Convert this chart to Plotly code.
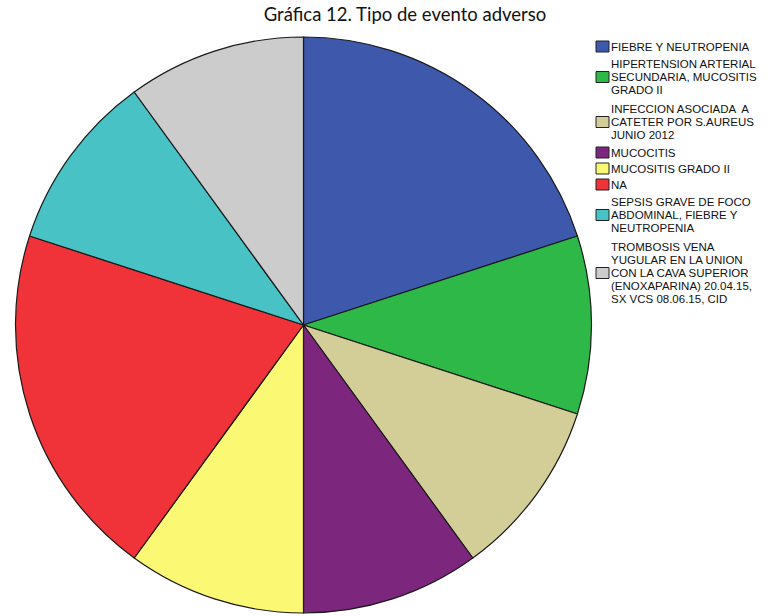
import plotly.graph_objects as go

# Adverse event types and their counts
labels = [
    "FIEBRE Y NEUTROPENIA",
    "HIPERTENSION ARTERIAL<br>SECUNDARIA, MUCOSITIS<br>GRADO II",
    "INFECCION ASOCIADA  A<br>CATETER POR S.AUREUS<br>JUNIO 2012",
    "MUCOCITIS",
    "MUCOSITIS GRADO II",
    "NA",
    "SEPSIS GRAVE DE FOCO<br>ABDOMINAL, FIEBRE Y<br>NEUTROPENIA",
    "TROMBOSIS VENA<br>YUGULAR EN LA UNION<br>CON LA CAVA SUPERIOR<br>(ENOXAPARINA) 20.04.15,<br>SX VCS 08.06.15, CID",
]
counts = [2, 1, 1, 1, 1, 2, 1, 1]
colors = ["#3E58AC", "#2EB848", "#D3CE97", "#7C277D", "#FBF873", "#EF3338", "#48C2C5", "#CCCCCC"]

W, H = 780, 616

fig = go.Figure(
    go.Pie(
        labels=labels,
        values=counts,
        sort=False,
        direction="clockwise",
        rotation=0,
        textinfo="none",
        hoverinfo="label+value+percent",
        marker=dict(colors=colors, line=dict(color="#1a1a1a", width=1.2)),
        domain=dict(x=[14 / W, 593 / W], y=[1 - 613 / H, 1 - 37 / H]),
        showlegend=False,
    )
)

# Compact legend: colour box + one annotation per text line
FONT_SIZE = 11.5
LINE = 13          # px between text lines
BASE_GAP = 3       # px extra between entries
MULTI_PAD = 1.5    # extra px next to multi-line entries
y = 46.5           # px from top of the first text line
prev_multi = False
for i, (lab, col) in enumerate(zip(labels, colors)):
    lines = lab.split("<br>")
    multi = len(lines) > 1
    if i > 0:
        y += LINE + BASE_GAP + MULTI_PAD * (prev_multi + multi)
    ys = [y + k * LINE for k in range(len(lines))]
    for txt, yl in zip(lines, ys):
        fig.add_annotation(
            text=txt, x=610 / W, y=1 - yl / H, xref="paper", yref="paper",
            xanchor="left", yanchor="middle", showarrow=False, borderpad=0,
            font=dict(family="Liberation Sans, Arial, sans-serif", size=FONT_SIZE, color="#111111"),
        )
    yc = (ys[0] + ys[-1]) / 2
    fig.add_shape(
        type="rect", xref="paper", yref="paper",
        x0=596 / W, x1=609 / W, y0=1 - (yc + 5.5) / H, y1=1 - (yc - 5.5) / H,
        fillcolor=col, line=dict(color="#222222", width=1),
    )
    y = ys[-1]
    prev_multi = multi

fig.update_layout(
    width=W,
    height=H,
    margin=dict(l=0, r=0, t=0, b=0),
    paper_bgcolor="white",
    plot_bgcolor="white",
    title=dict(
        text="Gráfica 12. Tipo de evento adverso",
        x=405 / W,
        xanchor="center",
        y=1 - 15 / H,
        yanchor="middle",
        font=dict(family="Lato, Open Sans, sans-serif", size=18.5, color="#111111"),
    ),
)

fig.write_html("out.html")
